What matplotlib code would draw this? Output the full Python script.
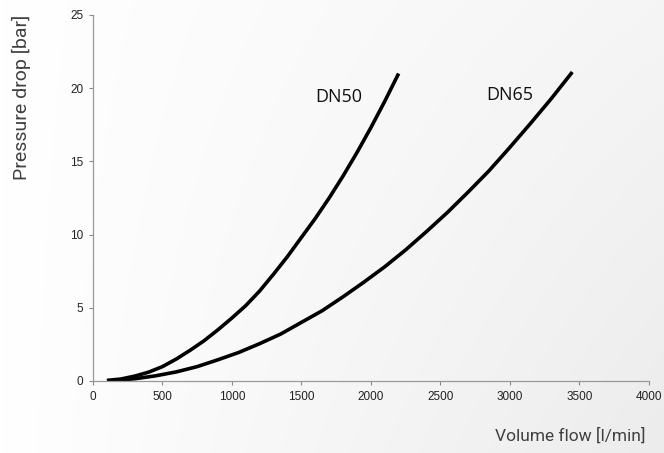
import numpy as np
import matplotlib
matplotlib.use("Agg")
import matplotlib.pyplot as plt

# Data
dn50_flow = [100, 200, 300, 400, 500, 600, 700, 800, 900, 1000, 1100, 1200, 1300, 1400, 1500,
             1600, 1700, 1800, 1900, 2000, 2100, 2200]
dn50_dp   = [0.04, 0.13, 0.33, 0.6, 0.98, 1.5, 2.1, 2.75, 3.5, 4.3, 5.15, 6.15, 7.3, 8.5, 9.8,
             11.1, 12.5, 14.0, 15.6, 17.3, 19.1, 21.0]

dn65_flow = [150, 300, 450, 600, 750, 900, 1050, 1200, 1350, 1500, 1650, 1800, 1950, 2100, 2250,
             2400, 2550, 2700, 2850, 3000, 3150, 3300, 3450]
dn65_dp   = [0.04, 0.15, 0.35, 0.62, 0.98, 1.45, 1.95, 2.55, 3.2, 4.0, 4.8, 5.75, 6.75, 7.8, 8.95,
             10.2, 11.5, 12.9, 14.35, 15.95, 17.6, 19.3, 21.1]

x_ticks = [0, 500, 1000, 1500, 2000, 2500, 3000, 3500, 4000]
y_ticks = [0, 5, 10, 15, 20, 25]

fig = plt.figure(figsize=(6.64, 4.53), dpi=100)

# background gradient
bg = fig.add_axes([0, 0, 1, 1], zorder=-10)
xx, yy = np.meshgrid(np.linspace(0, 1, 200), np.linspace(0, 1, 200))  # yy: 0 top -> 1 bottom
g = 1 - (10 * xx + 9 * xx * yy) / 255.0
bg.imshow(np.dstack([g, g, g]), aspect='auto', extent=[0, 1, 0, 1], origin='upper')
bg.axis('off')

ax = fig.add_axes([0.140, 0.159, 0.837, 0.808])
ax.patch.set_alpha(0)

ax.plot(dn50_flow, dn50_dp, color='black', lw=2.6, solid_capstyle='butt', solid_joinstyle='round')
ax.plot(dn65_flow, dn65_dp, color='black', lw=2.6, solid_capstyle='butt', solid_joinstyle='round')

ax.text(1770, 19.4, 'DN50', fontsize=13, family='Open Sans', color='#111111', ha='center', va='center')
ax.text(3000, 19.5, 'DN65', fontsize=13, family='Open Sans', color='#111111', ha='center', va='center')

ax.set_xlim(0, 4000)
ax.set_ylim(0, 25)
ax.set_xticks(x_ticks)
ax.set_yticks(y_ticks)
ax.set_xticklabels([str(v) for v in x_ticks], family='Liberation Sans', fontsize=8.5, color='#222222')
ax.set_yticklabels([str(v) for v in y_ticks], family='Liberation Sans', fontsize=8.5, color='#222222')
ax.tick_params(axis='both', direction='out', length=3, width=0.8, color='#888888', pad=4)

for s in ['top', 'right']:
    ax.spines[s].set_visible(False)
for s in ['left', 'bottom']:
    ax.spines[s].set_color('#999999')
    ax.spines[s].set_linewidth(0.9)

lab_font = ['Roboto', 'DejaVu Sans']
fig.text(0.032, 0.786, 'Pressure drop [bar]', rotation=90, ha='center', va='center',
         family=lab_font, fontsize=14, color='#404040')
fig.text(0.972, 0.038, 'Volume flow [l/min]', ha='right', va='center',
         family=lab_font, fontsize=12.5, color='#404040')

fig.savefig('out.png', dpi=100)
